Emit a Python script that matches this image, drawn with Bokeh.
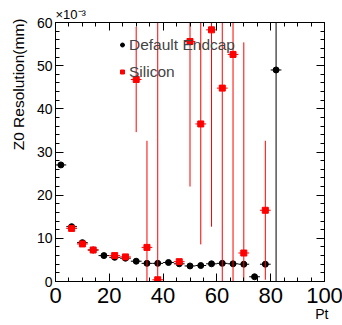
import numpy as np
from bokeh.plotting import figure
from bokeh.models import (LinearAxis, SingleIntervalTicker, Title, Legend, LegendItem,
                          ColumnDataSource)
from bokeh.embed import file_html
from bokeh.resources import INLINE

# ---- data (values in units of 1e-3 mm) ----
bin_half = 2.0
def_pt = [2, 6, 10, 14, 18, 22, 26, 30, 34, 38, 42, 46, 50, 54, 58, 62, 66, 70, 74, 78, 82]
def_res = [27.0, 12.7, 9.0, 7.3, 6.0, 5.6, 5.4, 4.7, 4.2, 4.2, 4.4, 4.1, 3.6, 3.7, 4.1, 4.2,
           4.1, 4.0, 1.1, 4.0, 49.0]
def_err = [0.4, 0.4, 0.3, 0.2, 0.2, 0.2, 0.2, 0.2, 0.2, 0.2, 0.2, 0.2, 0.2, 0.2, 0.2, 0.2,
           0.2, 0.2, 0.2, 0.2, 70.0]

sil_pt = [6, 10, 14, 22, 26, 30, 34, 38, 46, 50, 54, 58, 62, 66, 70, 78]
sil_res = [12.3, 8.7, 7.3, 6.0, 5.7, 46.8, 7.9, 0.4, 4.6, 55.6, 36.5, 58.3, 44.8, 52.6, 6.6, 16.5]
sil_err = [0.6, 0.5, 0.3, 0.3, 0.3, 12.2, 24.7, 70.0, 0.3, 33.6, 27.9, 45.6, 60.0, 60.0, 48.8, 16.1]

x_ticks_interval = 20
y_ticks_interval = 10

FONT = "Liberation Sans"

p = figure(frame_width=269, frame_height=259, x_range=(0, 100), y_range=(0, 60),
           output_backend="svg", toolbar_location=None,
           min_border_left=54, min_border_right=19, min_border_top=22, min_border_bottom=44,
           x_axis_location=None, y_axis_location=None)
p.grid.visible = False
p.outline_line_color = "black"
p.outline_line_width = 1
p.background_fill_color = "white"
p.border_fill_color = "white"

def make_axis(interval, minor, show_labels, font_size, standoff):
    ax = LinearAxis(ticker=SingleIntervalTicker(interval=interval, num_minor_ticks=minor))
    ax.axis_line_color = "black"
    ax.major_tick_line_color = "black"
    ax.minor_tick_line_color = "black"
    ax.major_tick_in = 8
    ax.major_tick_out = 0
    ax.minor_tick_in = 4
    ax.minor_tick_out = 0
    ax.major_label_text_font = FONT
    ax.major_label_text_color = "black"
    if show_labels:
        ax.major_label_text_font_size = font_size
        ax.major_label_standoff = standoff
    else:
        ax.major_label_text_font_size = "1px"
        ax.major_label_text_alpha = 0
        ax.major_label_standoff = 0
    return ax

p.add_layout(make_axis(x_ticks_interval, 4, True, "22px", 6), "below")
p.add_layout(make_axis(x_ticks_interval, 4, False, "1px", 0), "above")
p.add_layout(make_axis(y_ticks_interval, 5, True, "14px", 3), "left")
p.add_layout(make_axis(y_ticks_interval, 5, False, "1px", 0), "right")

# titles (added after the axes so they sit outside them)
p.add_layout(Title(text="\u00d710\u207b\u00b3", align="left", text_font=FONT,
                   text_font_size="13px", text_font_style="normal", text_color="black",
                   standoff=1), "above")
p.add_layout(Title(text="Z0 Resolution(mm)", align="right", text_font=FONT, offset=-4,
                   text_font_size="15.5px", text_font_style="normal", text_color="black",
                   standoff=14), "left")
p.add_layout(Title(text="Pt", align="right", text_font=FONT, offset=-4,
                   text_font_size="14px", text_font_style="normal", text_color="black",
                   standoff=-4), "below")

def add_series(xs, ys, es, color, marker, size):
    xs = np.array(xs, float); ys = np.array(ys, float); es = np.array(es, float)
    src = ColumnDataSource(dict(x=xs, y=ys, x0=xs - bin_half, x1=xs + bin_half,
                                y0=ys - es, y1=ys + es))
    p.segment(x0="x0", y0="y", x1="x1", y1="y", source=src, line_color=color, line_width=1)
    p.segment(x0="x", y0="y0", x1="x", y1="y1", source=src, line_color=color, line_width=1)
    r = p.scatter(x="x", y="y", source=src, marker=marker, size=size,
                  fill_color=color, line_color=color)
    return r

r_def = add_series(def_pt, def_res, def_err, "black", "circle", 6)
r_sil = add_series(sil_pt, sil_res, sil_err, "#ff0000", "square", 6)

legend = Legend(items=[LegendItem(label="Default Endcap", renderers=[r_def]),
                       LegendItem(label="Silicon", renderers=[r_sil])],
                location=(62, 196), orientation="vertical",
                glyph_width=10, glyph_height=27, label_height=27, label_standoff=2,
                spacing=0, padding=0, margin=0,
                label_text_font=FONT, label_text_font_size="15.5px",
                background_fill_alpha=0, border_line_alpha=0)
p.add_layout(legend, "center")

open("out.html", "w").write(file_html(p, INLINE))
